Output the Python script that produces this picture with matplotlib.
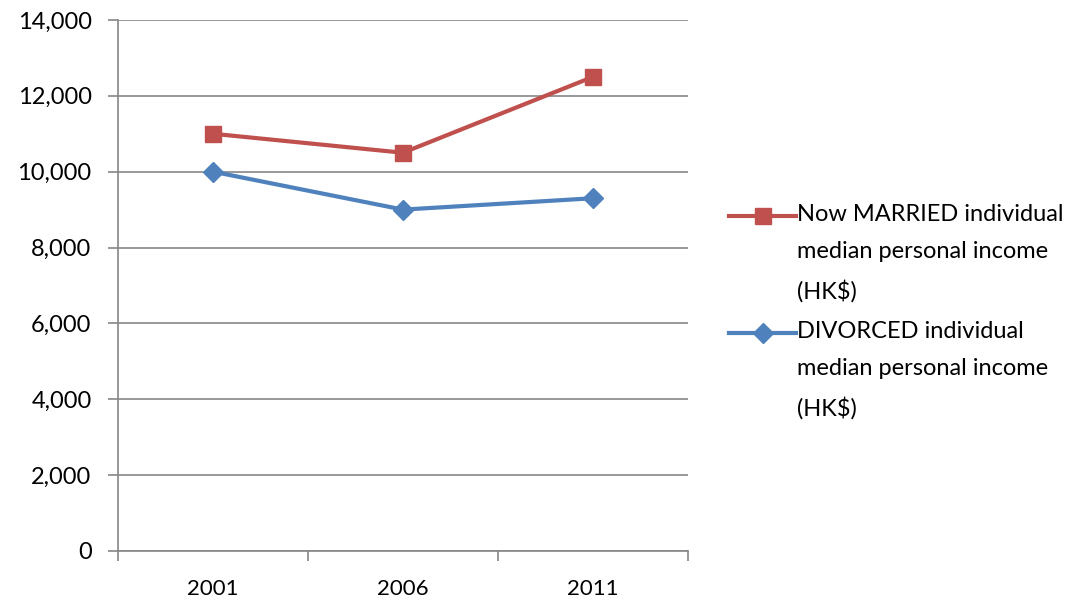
import numpy as np
import matplotlib.pyplot as plt
from matplotlib.legend_handler import HandlerLine2D

plt.rcParams['font.family'] = ['Lato', 'DejaVu Sans']

years = ['2001', '2006', '2011']
married = [11000, 10500, 12500]
divorced = [10000, 9000, 9300]
married_label = 'Now MARRIED individual\nmedian personal income\n(HK$)'
divorced_label = 'DIVORCED individual\nmedian personal income\n(HK$)'


# ручка легенды на уровне первой строки подписи, как в Excel
class TopLineHandler(HandlerLine2D):
    def create_artists(self, legend, orig_handle, xdescent, ydescent,
                       width, height, fontsize, trans):
        arts = super().create_artists(legend, orig_handle, xdescent, ydescent,
                                      width, height, fontsize, trans)
        for a in arts:
            a.set_ydata(np.asarray(a.get_ydata()) + fontsize * 1.6)
        return arts


fig = plt.figure(figsize=(10.92, 6), dpi=100)
ax = fig.add_axes([0.108, 0.0817, 0.522, 0.885])

x = np.arange(len(years))
l1, = ax.plot(x, married, color='#C0504D', lw=3, marker='s', ms=12, label=married_label)
l2, = ax.plot(x, divorced, color='#4F81BD', lw=3, marker='D', ms=10, label=divorced_label)

ax.set_xlim(-0.5, 2.5)
ax.set_ylim(0, 14000)
ax.set_yticks(np.arange(0, 14001, 2000))
ax.set_yticklabels([f'{v:,}' for v in range(0, 14001, 2000)])
ax.set_xticks(x)
ax.set_xticklabels(years)
ax.set_xticks([-0.5, 0.5, 1.5, 2.5], minor=True)
ax.tick_params(axis='x', which='major', length=0, pad=20, labelsize=16)
ax.tick_params(axis='x', which='minor', length=7, color='#868686', width=1.2)
ax.tick_params(axis='y', length=7, color='#868686', width=1.2, labelsize=17, pad=12)

ax.grid(axis='y', color='#868686', lw=1.2)
ax.set_axisbelow(True)
for s in ['top', 'right']:
    ax.spines[s].set_visible(False)
for s in ['left', 'bottom']:
    ax.spines[s].set_color('#868686')
    ax.spines[s].set_linewidth(1.2)

leg = fig.legend(handles=[l1, l2], loc='upper left', bbox_to_anchor=(0.668, 0.66),
                 frameon=False, fontsize=17, handlelength=2.8, handletextpad=0.05,
                 labelspacing=0.8, borderpad=0, borderaxespad=0,
                 handler_map={l1: TopLineHandler(), l2: TopLineHandler()})
for t in leg.get_texts():
    t.set_linespacing(1.93)

fig.savefig('out.png', dpi=100)
